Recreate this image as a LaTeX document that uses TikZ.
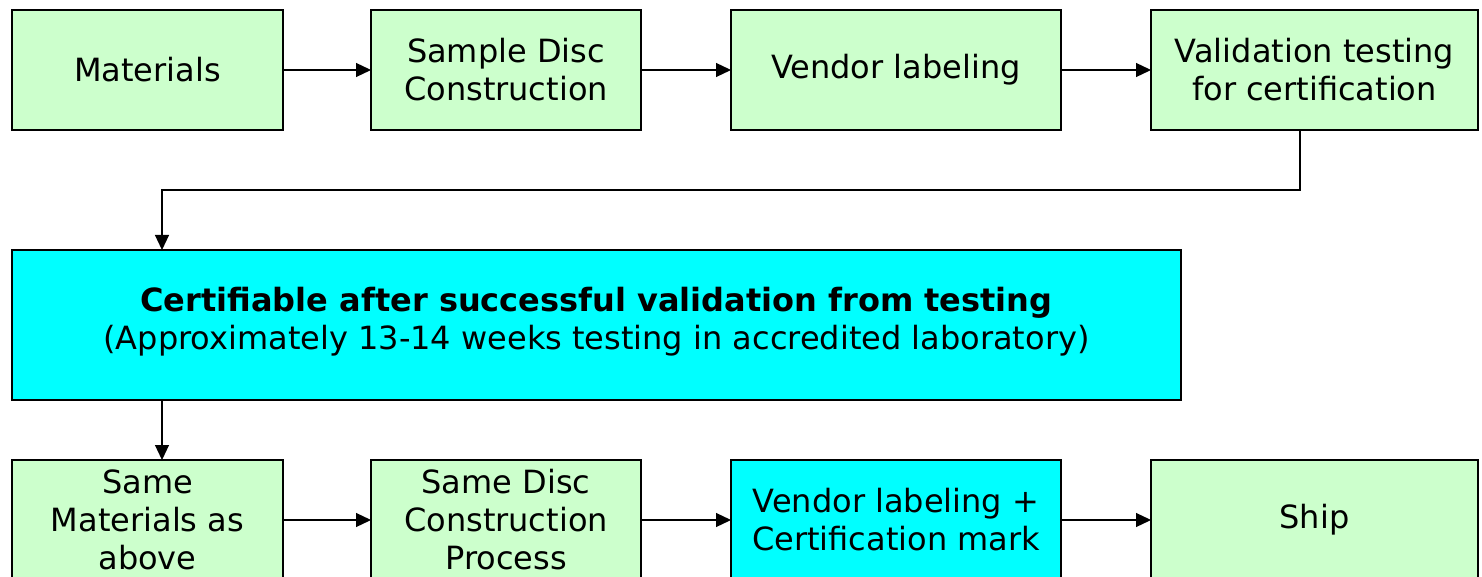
\documentclass[tikz,border=0pt]{standalone}
\usepackage{fontspec}
\setmainfont{DejaVu Sans}
\usepackage{tikz}
\usetikzlibrary{arrows.meta,positioning,calc}

\definecolor{stepgreen}{HTML}{CCFFCC}
\definecolor{certcyan}{HTML}{00FFFF}

\begin{document}
\begin{tikzpicture}[
    x=1pt, y=1pt,
    font=\fontsize{32}{38}\selectfont,
    stepbox/.style={rectangle, draw=black, fill=stepgreen, line width=1.2pt, minimum height=120pt, inner sep=2pt, outer sep=0pt, align=center},
    markbox/.style={stepbox, fill=certcyan},
    certbox/.style={rectangle, draw=black, fill=certcyan, line width=1.2pt, minimum width=1169pt, minimum height=150pt, outer sep=0pt, align=center},
    arrow/.style={-{Triangle[length=15pt,width=14pt]}, line width=1.2pt}
]
    \useasboundingbox (0,0) rectangle (1482,-577);

    % First run
    \node[stepbox, minimum width=271pt] (mat) at (147.5,-70) {Materials};
    \node[stepbox, minimum width=270pt, right=88pt of mat] (disc) {Sample Disc\\Construction};
    \node[stepbox, minimum width=330pt, right=90pt of disc] (vendor) {Vendor labeling};
    \node[stepbox, minimum width=327pt, right=90pt of vendor] (valid) {Validation testing\\for certification};

    % Certification
    \node[certbox, anchor=north west] (cert) at (12,-250) {\textbf{Certifiable after successful validation from testing}\\(Approximately 13-14 weeks testing in accredited laboratory)\vphantom{\rule[-14pt]{0pt}{1pt}}};

    % Production run
    \node[stepbox, minimum width=271pt] (same) at (147.5,-520) {Same\\Materials as\\above};
    \node[stepbox, minimum width=270pt, right=88pt of same] (samedisc) {Same Disc\\Construction\\Process};
    \node[markbox, minimum width=330pt, right=90pt of samedisc] (vendormark) {Vendor labeling +\\Certification mark};
    \node[stepbox, minimum width=327pt, right=90pt of vendormark] (ship) {Ship};

    % Turn points
    \coordinate (drop) at (1300,-128);
    \coordinate (turn) at (162,-190);

    % Arrows
    \draw[arrow] (mat) -- (disc);
    \draw[arrow] (disc) -- (vendor);
    \draw[arrow] (vendor) -- (valid);
    \draw[arrow] (drop |- valid.south) |- (turn) -- (turn |- cert.north);
    \draw[arrow] (turn |- cert.south) -- (turn |- same.north);
    \draw[arrow] (same) -- (samedisc);
    \draw[arrow] (samedisc) -- (vendormark);
    \draw[arrow] (vendormark) -- (ship);
\end{tikzpicture}
\end{document}
